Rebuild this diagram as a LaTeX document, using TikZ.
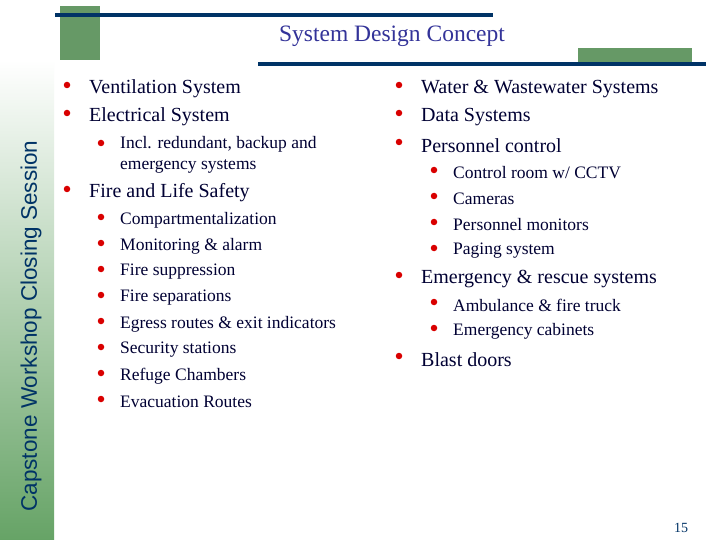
\documentclass[tikz,border=0pt]{standalone}
\usepackage{fontspec}
\setmainfont{Liberation Serif}
\newfontfamily\sansf{Liberation Sans}
\begin{document}
\begin{tikzpicture}[x=1pt,y=-1pt,
  txt/.style={anchor=west,inner sep=0pt,text=black!80!blue,font=\fontsize{20}{20}\selectfont},
  stxt/.style={anchor=west,inner sep=0pt,text=black!80!blue,font=\fontsize{17.5}{21}\selectfont,align=left},
  bul/.style={circle,fill=red!85!black,inner sep=0pt,minimum size=6.5pt}]
\useasboundingbox (0,0) rectangle (720,540);
\fill[white] (0,0) rectangle (720,540);
\shade[top color=white,bottom color=green!40!black!60!white] (0,60) rectangle (54,540);
\fill[white] (0,0) rectangle (54,60);
\definecolor{gr}{HTML}{669966}
\definecolor{nv}{HTML}{003366}
\fill[gr] (60,6) rectangle (100,60);
\fill[nv] (55,13) rectangle (493,17);
\fill[gr] (578,48) rectangle (692,66);
\fill[nv] (258,62) rectangle (706,66);
\node[inner sep=0pt,text={rgb,255:red,51;green,51;blue,153},font=\fontsize{23.5}{23.5}\selectfont] (title) at (392,36) {System Design Concept};
\node[rotate=90,inner sep=0pt,text=nv,font=\sansf\fontsize{22.5}{22.5}\selectfont] (side) at (31,326) {Capstone Workshop Closing Session};
% left column
\foreach \n/\y/\t in {a/89/Ventilation System,b/117/Electrical System,c/193/Fire and Life Safety}{
  \node[bul] (b\n) at (67,\y-4) {};
  \node[txt] (t\n) at (89,\y) {\t};}
\node[bul] (bs0) at (101,143) {};
\node[stxt,anchor=north west] (ts0) at (120,136) {Incl. redundant, backup and\\emergency systems};
\foreach \n/\y/\t in {1/220/Compartmentalization,2/246/Monitoring \& alarm,3/272/Fire suppression,4/298/Fire separations,5/324/Egress routes \& exit indicators,6/350/Security stations,7/376/Refuge Chambers,8/402/Evacuation Routes}{
  \node[bul] (bl\n) at (101,\y-3) {};
  \node[stxt] (tl\n) at (120,\y) {\t};}
% right column
\foreach \n/\y/\t in {a/89/Water \& Wastewater Systems,b/117/Data Systems,c/146/Personnel control,d/279/Emergency \& rescue systems,e/360/Blast doors}{
  \node[bul] (r\n) at (399,\y-4) {};
  \node[txt] (rt\n) at (421,\y) {\t};}
\foreach \n/\y/\t in {1/173/{Control room w/ CCTV},2/199/Cameras,3/225/Personnel monitors,4/251/Paging system,5/305/Ambulance \& fire truck,6/331/Emergency cabinets}{
  \node[bul] (rs\n) at (434,\y-3) {};
  \node[stxt] (rst\n) at (453,\y) {\t};}
\node[inner sep=0pt,text=nv,font=\fontsize{14}{14}\selectfont] (pg) at (681,528) {15};
\end{tikzpicture}
\end{document}
